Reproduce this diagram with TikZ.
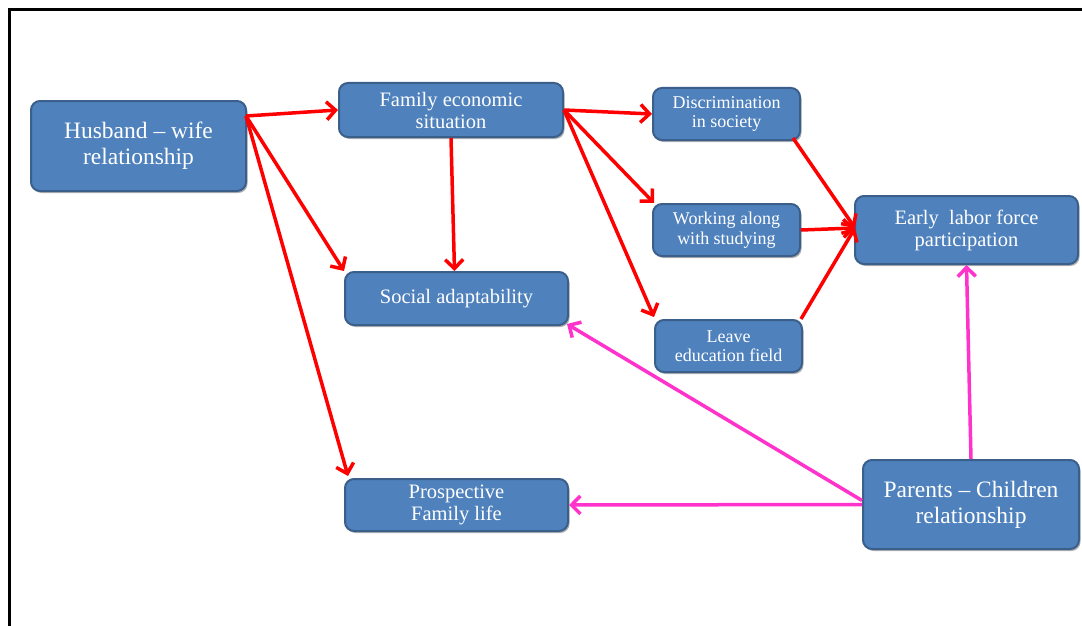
\documentclass[tikz,border=0pt]{standalone}
\usepackage{fontspec}
\setmainfont{Liberation Serif}
\newfontfamily\tnr{Liberation Serif}
\usetikzlibrary{arrows.meta,shadows,calc}
\definecolor{boxfill}{HTML}{4F81BD}
\definecolor{boxline}{HTML}{3A5F8B}
\definecolor{redarr}{HTML}{FF0000}
\definecolor{pinkarr}{HTML}{FF33CC}
\begin{document}
\begin{tikzpicture}[x=1pt,y=-1pt,
  box/.style={draw=boxline, line width=2pt, fill=boxfill, rounded corners=9pt,
    text=white, align=center, inner sep=2pt,
    drop shadow={shadow xshift=1.5pt, shadow yshift=-2pt, opacity=0.3, fill=black}},
  bigtxt/.style={font=\tnr\fontsize{23.5}{26}\selectfont},
  midtxt/.style={font=\tnr\fontsize{20.5}{22}\selectfont},
  smalltxt/.style={font=\tnr\fontsize{18}{19.5}\selectfont},
  redlink/.style={draw=redarr, line width=3.5pt, -{Straight Barb[length=9pt,width=18pt]}},
  pinklink/.style={draw=pinkarr, line width=3.5pt, -{Straight Barb[length=9pt,width=18pt]}}]
\useasboundingbox (0,0) rectangle (1082,626);
\fill[white] (0,0) rectangle (1082,626);
\draw[line width=3pt] (9.5,626) -- (9.5,9.5) -- (1082,9.5);

\node[box, bigtxt, minimum width=215pt, minimum height=90pt] (hw) at (138.5,146) {Husband \textendash{} wife\\relationship};
\node[box, midtxt, minimum width=224pt, minimum height=54pt] (fes) at (451,110) {Family economic\\situation};
\node[box, smalltxt, minimum width=147pt, minimum height=52pt] (dis) at (726.5,114) {Discrimination\\in society};
\node[box, smalltxt, minimum width=147pt, minimum height=52pt] (wor) at (726.5,230) {Working along\\with studying};
\node[box, smalltxt, minimum width=147pt, minimum height=52pt] (lea) at (728.5,346) {Leave\\education field};
\node[box, midtxt, minimum width=223pt, minimum height=68pt] (elf) at (966.5,230) {Early\ \ labor force\\participation};
\node[box, midtxt, minimum width=223pt, minimum height=53pt] (sa) at (456.5,298.5) {Social adaptability};
\node[box, midtxt, minimum width=223pt, minimum height=52pt] (pf) at (456.5,505) {Prospective\\Family life};
\node[box, bigtxt, minimum width=216pt, minimum height=89pt] (pc) at (971,504.5) {Parents \textendash{} Children\\relationship};

\coordinate (hwo) at (246,116);
\coordinate (elfin) at (855,228);

\draw[redlink] (hwo) -- (fes.west);
\draw[redlink] (hwo) -- (sa.north west);
\draw[redlink] (hwo) -- ($(pf.north west)+(4,-2)$);
\draw[redlink] (fes.south) -- ($(sa.north)+(-2,0)$);
\draw[redlink] (fes.east) -- (dis.west);
\draw[redlink] (fes.east) -- ($(wor.north west)+(2,0)$);
\draw[redlink] (fes.east) -- ($(lea.north west)+(0,-2)$);
\draw[redlink] ($(dis.south east)+(-8,-3)$) -- (elfin);
\draw[redlink] (wor.east) -- (elfin);
\draw[redlink] ($(lea.north east)+(-2,0)$) -- (elfin);

\draw[pinklink] (pc.north) -- (elf.south);
\draw[pinklink] ($(pc.west)+(0,-4)$) -- ($(sa.south east)+(-2,-2)$);
\draw[pinklink] (pc.west) -- (pf.east);
\end{tikzpicture}
\end{document}
